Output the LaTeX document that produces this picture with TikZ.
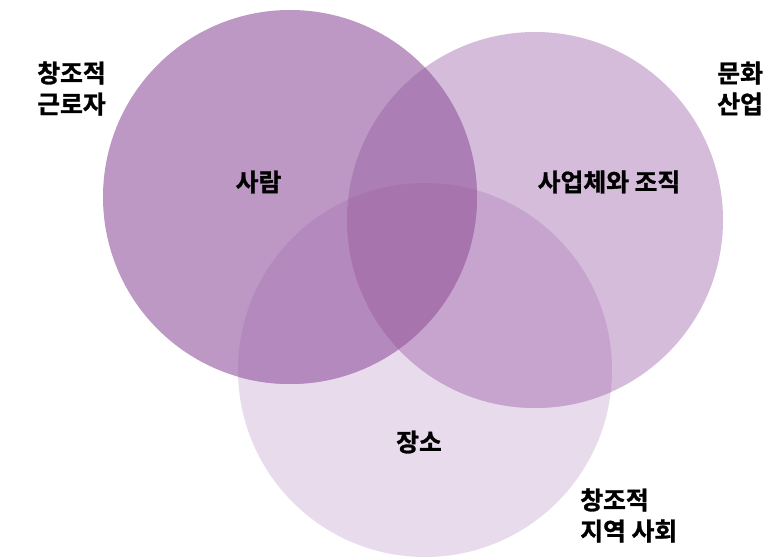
\documentclass[tikz,border=0pt]{standalone}
\usepackage{fontspec}
\setmainfont{Noto Sans CJK KR}[BoldFont=* Bold, BoldFeatures={FakeBold=1.2}]
\definecolor{cA}{HTML}{BD98C5}
\definecolor{cB}{HTML}{D4BCDA}
\definecolor{cC}{HTML}{E8DCEC}
\definecolor{cAC}{HTML}{B48ABE}
\definecolor{cBC}{HTML}{C6A4CE}
\definecolor{cAB}{HTML}{AC7EB6}
\definecolor{cABC}{HTML}{A874AE}
\tikzset{
  lbl/.style={inner sep=0pt, text=black, font=\fontsize{18.6pt}{23.25pt}\selectfont\bfseries},
  side/.style={lbl, align=left, anchor=west}
}
\begin{document}
\begin{tikzpicture}[x=0.75pt,y=-0.75pt]
\useasboundingbox (0,0) rectangle (769,559);
\fill[white] (0,0) rectangle (769,559);
\def\cA{(290,197) circle[radius=187]}
\def\cB{(535,220) circle[radius=188]}
\def\cC{(425,370) circle[radius=187]}
% single circles
\fill[cC] \cC;
\fill[cB] \cB;
\fill[cA] \cA;
% pairwise overlaps
\begin{scope}\clip \cA; \fill[cAC] \cC; \end{scope}
\begin{scope}\clip \cB; \fill[cBC] \cC; \end{scope}
\begin{scope}\clip \cA; \fill[cAB] \cB; \end{scope}
\begin{scope}\clip \cA; \clip \cB; \fill[cABC] \cC; \end{scope}
% labels
\node[lbl] (saram) at (258.5,182) {사람};
\node[lbl] (saeop) at (609,182) {사업체와 조직};
\node[lbl] (jangso) at (419,442) {장소};
\node[side] (worker) at (37,88.5) {창조적\\근로자};
\node[side] (culture) at (717,88.5) {문화\\산업};
\node[side] (community) at (580,515.5) {창조적\\지역 사회};
\end{tikzpicture}
\end{document}
